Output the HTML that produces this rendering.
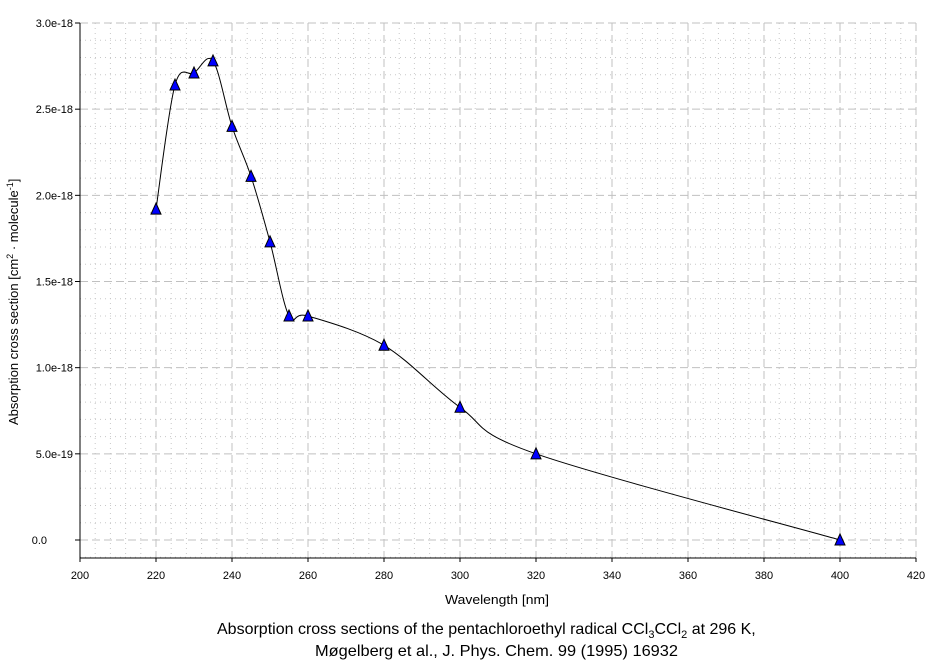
<!DOCTYPE html>
<html><head><meta charset="utf-8"><style>
body{margin:0;background:#fff;}
svg text{font-family:"Liberation Sans",Arial,sans-serif;fill:#000;}
</style></head><body>
<svg id="s" width="939" height="661" xmlns="http://www.w3.org/2000/svg">
<g id="grid"></g>
<path id="curve" fill="none" stroke="#000" stroke-width="1"/>
<g id="marks"></g>
<line x1="80" y1="23" x2="80" y2="558" stroke="#000"/>
<line x1="80" y1="558" x2="916" y2="558" stroke="#000"/>
<g id="labels" font-size="11"></g>
<text x="445" y="604" font-size="13" textLength="104" lengthAdjust="spacingAndGlyphs">Wavelength [nm]</text>
<text transform="translate(18,425) rotate(-90)" font-size="13">Absorption cross section [cm<tspan font-size="9" dy="-5">2</tspan><tspan dy="5"> · molecule</tspan><tspan font-size="9" dy="-5">-1</tspan><tspan dy="5">]</tspan></text>
<text x="217" y="634" font-size="16">Absorption cross sections of the pentachloroethyl radical CCl<tspan font-size="11" dy="4">3</tspan><tspan dy="-4">CCl</tspan><tspan font-size="11" dy="4">2</tspan><tspan dy="-4"> at 296 K,</tspan></text>
<text x="315" y="656" font-size="16" textLength="363" lengthAdjust="spacingAndGlyphs">Møgelberg et al., J. Phys. Chem. 99 (1995) 16932</text>
</svg>
<script>
var X=function(v){return 80+(v-200)*3.8;};
var Y=function(v){return 540-v*172.33;};
var g=document.getElementById('grid'),L=document.getElementById('labels'),h='',l='';
for(var x=204;x<=420;x+=4){var px=X(x);var maj=(x%20==0);
h+='<line x1="'+px+'" y1="23" x2="'+px+'" y2="558" stroke="'+(maj?'#c0c0c0':'#c8c8c8')+'" stroke-dasharray="'+(maj?'8,4':'1,4')+'"/>';}
for(var i=-1;i<=30;i++){var v=i/10,py=Y(v);var maj=(i%5==0&&i>=0);
h+='<line x1="80" y1="'+py+'" x2="916" y2="'+py+'" stroke="'+(maj?'#c0c0c0':'#c8c8c8')+'" stroke-dasharray="'+(maj?'8,4':'1,4')+'"/>';}
g.innerHTML=h;
for(var x=200;x<=420;x+=20){l+='<text x="'+X(x)+'" y="579" text-anchor="middle">'+x+'</text><line x1="'+X(x)+'" y1="558" x2="'+X(x)+'" y2="562" stroke="#000"/>';}
var yl=['0.0','5.0e-19','1.0e-18','1.5e-18','2.0e-18','2.5e-18','3.0e-18'];
for(var i=0;i<7;i++){var py=Y(i*0.5);var rx=(i==0)?47:73;l+='<text x="'+rx+'" y="'+(py+4)+'" text-anchor="end">'+yl[i]+'</text><line x1="75" y1="'+py+'" x2="80" y2="'+py+'" stroke="#000"/>';}
L.innerHTML=l;
var d=[[220,1.92],[225,2.64],[230,2.71],[235,2.78],[240,2.40],[245,2.11],[250,1.73],[255,1.30],[260,1.30],[280,1.13],[300,0.77],[320,0.50],[400,0.0]];
var p=d.map(function(a){return [X(a[0]),Y(a[1])];});
var s='M'+p[0][0]+','+p[0][1];
for(var i=0;i<p.length-1;i++){var p0=p[i-1]||p[i],p1=p[i],p2=p[i+1],p3=p[i+2]||p2;
var c1=[p1[0]+(p2[0]-p0[0])/6,p1[1]+(p2[1]-p0[1])/6],c2=[p2[0]-(p3[0]-p1[0])/6,p2[1]-(p3[1]-p1[1])/6];
s+=' C'+c1+' '+c2+' '+p2;}
document.getElementById('curve').setAttribute('d',s);
var m='';p.forEach(function(q){m+='<polygon points="'+(q[0]-5)+','+(q[1]+5)+' '+(q[0]+5)+','+(q[1]+5)+' '+q[0]+','+(q[1]-6)+'" fill="#0000ff" stroke="#000" stroke-width="1"/>';});
document.getElementById('marks').innerHTML=m;
</script>
</body></html>
